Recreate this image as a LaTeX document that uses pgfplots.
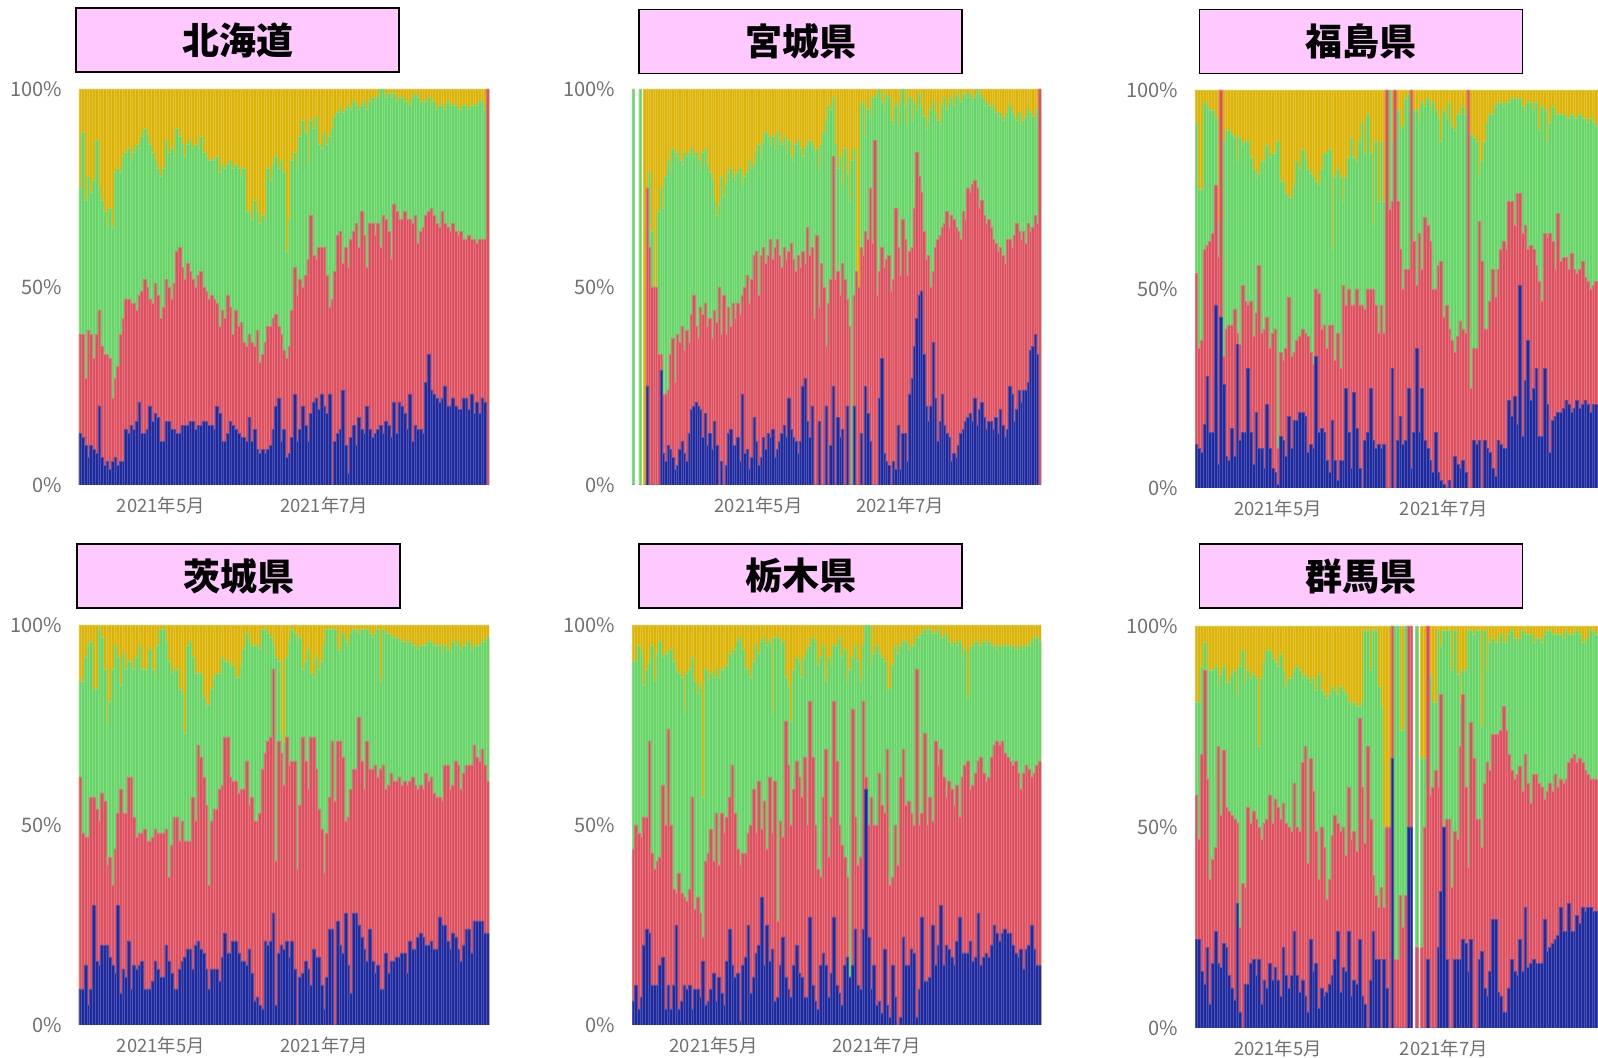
\documentclass[border=0pt]{standalone}
\usepackage{fontspec}
\setmainfont{Noto Sans CJK JP}
\usepackage{pgfplots}
\usepackage{pgfplotstable}
\pgfplotsset{compat=1.18}
\definecolor{cY}{RGB}{220,180,8}
\definecolor{cG}{RGB}{102,212,102}
\definecolor{cR}{RGB}{221,80,96}
\definecolor{cB}{RGB}{30,42,158}
\definecolor{cT}{RGB}{112,112,116}
\definecolor{cP}{RGB}{255,200,255}

% columns: b = blue top, r = red top, g = green top, t = total (yellow top), in percent
\pgfplotstableread{
b r g t
13 38 75 100
12 38 89 100
10 27 72 100
7 39 78 100
10 38 74 100
9 32 77 100
8 38 87 100
20 44 75 100
7 35 72 100
5 33 69 100
6 33 65 100
4 32 70 100
6 22 65 100
7 27 79 100
5 30 80 100
6 38 79 100
6 42 83 100
14 47 84 100
13 47 85 100
15 46 82 100
14 46 84 100
16 44 86 100
21 48 85 100
13 49 88 100
13 52 90 100
14 50 88 100
20 47 86 100
16 46 84 100
18 51 82 100
17 48 80 100
11 42 78 100
11 45 80 100
16 52 87 100
16 50 84 100
14 47 85 100
14 51 83 100
13 59 90 100
13 60 88 100
15 55 86 100
15 52 83 100
15 56 86 100
16 54 87 100
16 52 85 100
14 50 86 100
15 53 85 100
15 54 88 100
16 50 84 100
16 49 83 100
15 47 82 100
15 48 82 100
14 47 82 100
20 46 83 100
18 40 79 100
11 44 81 100
11 42 80 100
13 48 81 100
16 45 82 100
15 38 80 100
14 44 81 100
13 40 80 100
12 41 78 100
12 36 80 100
11 35 69 100
17 38 69 100
11 36 67 100
14 35 72 100
9 39 69 100
8 31 66 100
9 33 68 100
8 36 67 100
9 40 80 100
10 40 77 100
14 42 81 100
20 43 83 100
22 40 80 100
11 38 82 100
14 34 79 100
7 32 59 100
8 35 67 100
12 44 82 100
23 55 84 100
11 48 80 100
14 52 88 100
20 50 92 100
15 53 89 100
11 57 81 100
18 68 92 100
21 58 90 100
22 57 93 100
19 60 86 100
23 60 85 100
20 60 89 100
18 53 86 100
23 45 88 100
0 47 90 100
11 54 93 100
13 63 94 100
14 64 95 100
24 56 94 100
10 60 95 100
3 55 96 100
12 62 95 100
15 64 97 100
10 66 96 100
17 60 95 100
14 69 96 100
13 63 97 100
20 55 95 100
14 66 97 100
12 66 98 100
13 63 97 100
14 66 98 100
15 60 100 100
13 68 100 100
16 67 98 100
15 64 99 100
12 57 98 100
21 71 99 100
13 69 97 100
21 67 98 100
20 67 98 100
18 69 97 100
14 67 97 100
23 67 96 100
11 66 98 100
15 68 99 100
14 61 98 100
14 64 97 100
13 65 96 100
26 68 97 100
33 69 98 100
24 70 96 100
23 68 97 100
22 66 95 100
21 65 96 100
22 69 96 100
25 66 95 100
20 65 97 100
20 64 96 100
22 66 96 100
20 64 96 100
19 63 95 100
19 64 95 100
22 62 96 100
22 62 96 100
19 63 95 100
23 62 96 100
18 62 96 100
21 61 96 100
18 62 97 100
22 62 97 100
21 62 95 100
0 100 100 100
}\tA

\pgfplotstableread{
b r g t
0 0 100 100
nan nan nan nan
nan nan nan nan
0 0 100 100
nan nan nan nan
0 0 0 100
25 75 75 100
0 60 79 100
0 50 64 100
0 50 50 100
0 50 50 100
0 33 69 100
29 33 75 100
8 23 70 100
6 23 78 100
10 24 82 100
9 33 80 100
7 37 85 100
4 26 83 100
5 38 84 100
9 36 82 100
11 40 81 100
8 34 84 100
6 39 83 100
13 36 84 100
19 43 85 100
20 48 83 100
21 40 84 100
20 37 82 100
19 45 80 100
12 43 84 100
18 46 85 100
10 40 81 100
13 42 79 100
9 37 77 100
16 44 72 100
10 41 68 100
0 50 71 100
6 38 78 100
0 48 73 100
5 38 76 100
13 45 79 100
14 40 80 100
10 46 78 100
10 42 77 100
12 46 79 100
6 43 80 100
23 48 76 100
8 50 78 100
9 53 79 100
4 46 82 100
7 52 80 100
17 58 81 100
11 59 84 100
5 48 86 100
7 58 83 100
12 60 87 100
9 56 89 100
13 58 88 100
12 62 86 100
14 57 88 100
7 60 85 100
9 62 89 100
11 58 87 100
13 55 86 100
15 60 88 100
12 57 84 100
22 59 87 100
14 61 83 100
12 57 82 100
11 54 86 100
8 58 87 100
11 55 85 100
25 59 83 100
27 56 85 100
16 65 86 100
12 58 87 100
20 60 86 100
0 42 84 100
0 63 85 100
16 45 80 100
0 56 86 100
0 50 89 100
20 35 92 100
0 46 96 100
10 52 95 100
25 83 98 100
0 52 86 100
17 54 80 100
12 48 83 100
14 56 76 100
0 52 85 100
20 47 79 100
0 40 72 100
0 0 82 100
20 48 85 100
0 54 50 100
0 50 50 100
13 60 96 100
0 58 97 100
25 64 88 100
18 62 95 100
11 75 93 100
0 61 98 100
0 87 98 100
0 48 99 100
22 54 100 100
32 60 97 100
8 55 95 100
6 57 99 100
5 58 98 100
0 49 92 100
6 52 91 100
4 70 96 100
15 60 91 100
4 53 97 100
13 67 100 100
13 62 96 100
6 53 91 100
23 59 98 100
27 60 92 100
35 70 97 100
42 84 95 100
48 78 99 100
49 74 96 100
33 64 93 100
20 57 90 100
16 58 92 100
20 50 95 100
36 54 97 100
22 60 94 100
11 62 92 100
16 63 91 100
23 65 96 100
15 66 98 100
13 69 95 100
12 65 97 100
6 68 98 100
8 67 96 100
7 65 99 100
10 64 98 100
13 62 97 100
14 69 99 100
16 67 99 100
17 75 98 100
18 74 99 100
16 76 97 100
22 77 98 100
15 75 100 100
19 70 99 100
21 72 98 100
17 68 96 100
14 66 97 100
16 67 96 100
16 65 95 100
14 62 96 100
17 61 94 100
13 59 93 100
19 60 94 100
15 58 92 100
12 56 93 100
14 62 94 100
25 62 96 100
23 60 94 100
16 63 93 100
19 66 92 100
24 64 94 100
21 62 91 100
24 64 92 100
24 61 93 100
26 66 95 100
34 64 94 100
35 65 93 100
38 68 92 100
33 66 95 100
0 100 100 100
}\tB

\pgfplotstableread{
b r g t
11 54 92 100
10 35 75 100
9 37 75 100
16 60 97 100
28 61 96 100
14 62 95 100
14 64 95 100
46 76 93 100
6 58 67 100
43 100 100 100
26 33 87 100
8 40 90 100
7 41 90 100
15 41 89 100
8 45 88 100
36 39 82 100
12 36 88 100
14 51 86 100
14 47 87 100
30 46 87 100
14 47 83 100
6 38 80 100
19 44 78 100
10 56 79 100
10 39 82 100
5 40 82 100
21 43 86 100
10 35 83 100
5 39 84 100
4 40 84 100
1 10 87 100
13 34 77 100
12 32 77 100
8 35 74 100
18 48 73 100
10 33 73 100
17 34 76 100
17 37 82 100
19 38 80 100
19 40 85 100
18 39 83 100
9 38 80 100
11 34 79 100
10 31 78 100
33 50 77 100
14 49 76 100
15 40 80 100
14 41 84 100
7 35 84 100
4 41 85 100
17 41 60 100
7 32 78 100
2 39 80 100
7 30 78 100
7 51 72 100
25 46 78 100
14 50 83 100
5 46 88 100
24 46 83 100
15 50 82 100
5 46 87 100
0 46 92 100
12 45 84 100
14 50 94 100
25 50 84 100
12 50 66 100
10 46 87 100
11 39 72 100
10 46 87 100
11 39 72 100
0 100 100 100
0 70 100 100
30 72 87 100
0 100 100 100
12 72 95 100
18 60 90 100
11 50 91 100
12 55 98 100
25 55 99 100
5 100 100 100
14 62 95 100
35 51 95 100
14 64 92 100
25 55 97 100
12 68 96 100
10 66 98 100
7 62 95 100
4 50 97 100
14 50 95 100
4 56 93 100
2 57 87 100
1 43 95 100
0 46 93 100
2 40 97 100
0 37 91 100
8 34 90 100
6 38 94 100
5 42 94 100
7 40 96 100
4 39 94 100
0 100 100 100
0 25 89 100
12 35 88 100
11 35 87 100
12 67 78 100
0 57 82 100
12 40 87 100
10 40 92 100
9 47 94 100
5 55 94 100
3 48 96 100
12 55 97 100
11 60 97 100
10 62 96 100
10 60 97 100
22 72 97 100
18 72 98 100
23 66 98 100
16 74 97 100
51 74 98 100
13 64 96 100
27 66 95 100
37 60 97 100
22 61 97 100
25 60 95 100
30 56 97 100
13 52 90 100
13 47 96 100
30 64 95 100
21 63 87 100
9 64 92 100
17 62 96 100
18 55 94 100
19 69 94 100
19 57 94 100
20 58 94 100
22 58 93 100
21 55 93 100
19 59 94 100
20 55 93 100
22 54 93 100
20 55 94 100
21 57 93 100
22 53 93 100
21 52 92 100
19 50 93 100
21 51 92 100
21 52 91 100
20 52 92 100
20 53 92 100
21 52 91 100
20 51 92 100
21 52 92 100
}\tC

\pgfplotstableread{
b r g t
9 62 86 100
9 48 86 100
15 47 92 100
5 47 95 100
9 57 96 100
30 57 84 100
16 54 84 100
15 51 99 100
20 58 97 100
20 56 89 100
20 40 75 100
17 42 81 100
15 35 89 100
13 44 95 100
30 53 92 100
8 59 85 100
14 53 93 100
12 53 89 100
21 62 91 100
9 62 91 100
15 52 89 100
14 47 92 100
15 48 95 100
16 48 89 100
9 49 89 100
9 46 89 100
9 46 94 100
11 47 89 100
16 49 87 100
14 48 95 100
12 48 99 100
12 48 99 100
20 49 96 100
16 37 91 100
13 45 88 100
9 52 89 100
9 52 89 100
14 46 84 100
16 51 83 100
17 46 73 100
19 46 95 100
19 46 96 100
14 57 92 100
20 51 88 100
21 70 88 100
19 67 88 100
18 62 82 100
14 55 80 100
9 35 80 100
14 51 84 100
14 54 87 100
14 54 88 100
11 59 88 100
17 60 92 100
23 72 91 100
18 72 91 100
18 62 90 100
21 61 90 100
21 61 87 100
18 58 87 100
16 59 90 100
16 59 94 100
15 66 98 100
19 55 96 100
13 57 95 100
6 51 95 100
7 51 95 100
5 53 94 100
4 64 99 100
21 68 99 100
20 71 98 100
21 72 97 100
28 89 95 100
5 41 92 100
18 71 91 100
20 68 73 100
19 60 71 100
21 72 92 100
17 65 96 100
21 66 99 100
14 66 98 100
0 39 96 100
12 55 97 100
13 72 89 100
16 66 91 100
14 59 94 100
10 72 88 100
19 72 87 100
17 64 92 100
17 54 89 100
10 49 91 100
4 38 95 100
12 48 99 100
24 57 99 100
24 71 99 100
0 56 99 100
26 71 94 100
20 71 93 100
18 67 98 100
28 51 96 100
15 52 95 100
8 59 98 100
28 64 99 100
28 64 99 100
25 77 98 100
22 66 99 100
19 59 99 100
16 71 99 100
24 64 98 100
16 64 97 100
13 65 98 100
15 62 99 100
9 64 86 100
9 65 99 100
18 59 98 100
13 60 98 100
16 63 97 100
16 61 97 100
17 61 97 100
17 62 96 100
18 60 96 100
18 61 96 100
13 60 95 100
21 61 96 100
19 62 95 100
19 60 95 100
22 59 94 100
23 60 95 100
22 59 95 100
20 63 95 100
20 61 96 100
21 62 96 100
19 58 95 100
19 57 95 100
27 57 95 100
25 56 93 100
25 65 95 100
21 65 94 100
19 59 93 100
23 60 96 100
22 66 95 100
19 65 96 100
16 59 94 100
20 63 95 100
24 65 95 100
24 65 96 100
18 65 94 100
26 70 95 100
26 67 95 100
26 66 95 100
26 69 96 100
23 65 96 100
23 61 97 100
}\tD

\pgfplotstableread{
b r g t
6 44 91 100
10 50 91 100
4 48 95 100
7 47 93 100
20 52 85 100
24 52 89 100
23 71 91 100
10 43 95 100
10 39 86 100
10 41 93 100
15 42 96 100
17 60 92 100
4 50 93 100
10 74 93 100
4 50 94 100
10 34 91 100
25 33 89 100
4 38 88 100
6 33 87 100
10 32 78 100
9 31 88 100
10 34 89 100
4 57 92 100
9 29 86 100
9 32 83 100
7 28 85 100
16 22 57 100
5 41 89 100
6 43 86 100
9 49 88 100
13 41 87 100
6 53 89 100
12 40 87 100
8 53 89 100
5 48 89 100
16 52 90 100
24 57 93 100
15 65 92 100
12 53 94 100
13 44 96 100
1 40 97 100
15 43 94 100
17 43 89 100
25 48 89 100
8 50 87 100
12 59 91 100
18 48 95 100
20 61 93 100
32 49 96 100
15 56 97 100
25 44 95 100
16 62 96 100
19 48 78 100
6 61 97 100
7 26 97 100
15 51 95 100
22 47 96 100
12 76 87 100
9 65 85 100
7 50 76 100
15 59 89 100
20 66 92 100
13 62 91 100
12 57 87 100
7 67 92 100
7 50 94 100
27 81 95 100
10 67 97 100
6 50 96 100
4 39 90 100
15 37 92 100
18 57 95 100
15 69 86 100
7 42 92 100
13 52 90 100
27 81 95 100
10 66 95 100
8 50 97 100
5 45 92 100
15 42 94 100
17 37 86 100
12 12 89 100
15 79 92 100
24 52 95 100
10 40 91 100
9 42 86 100
24 81 95 100
59 62 100 100
22 50 100 100
9 57 90 100
15 50 93 100
5 50 95 100
6 63 93 100
3 55 92 100
19 53 91 100
5 69 84 100
2 35 84 100
15 37 90 100
7 50 95 100
0 40 93 100
2 62 95 100
22 69 96 100
15 55 96 100
15 56 94 100
19 53 95 100
18 50 95 100
2 89 97 100
9 50 97 100
27 53 98 100
11 73 99 100
11 50 98 100
12 57 99 100
25 51 98 100
15 71 98 100
20 65 99 100
30 69 97 100
15 62 97 100
20 57 98 100
19 61 96 100
17 59 95 100
15 55 96 100
21 60 95 100
27 52 96 100
18 62 92 100
18 65 94 100
18 66 82 100
21 59 94 100
16 60 95 100
17 63 96 100
28 66 95 100
15 67 95 100
17 63 96 100
18 61 95 100
17 62 96 100
20 67 95 100
25 70 95 100
23 71 94 100
21 70 95 100
23 71 94 100
24 68 95 100
23 67 95 100
23 66 94 100
20 65 95 100
18 66 94 100
17 63 94 100
19 59 95 100
14 63 94 100
19 65 95 100
20 64 95 100
25 62 96 100
19 63 97 100
15 65 97 100
15 66 96 100
}\tE

\pgfplotstableread{
b r g t
22 58 81 100
22 47 81 100
14 68 90 100
11 89 96 100
20 62 89 100
6 37 89 100
16 42 89 100
24 45 90 100
16 70 85 100
15 53 88 100
21 69 90 100
20 55 86 100
13 54 86 100
10 53 88 100
7 52 89 100
31 51 83 100
4 25 90 100
0 36 94 100
11 35 86 100
11 55 89 100
16 51 87 100
17 54 88 100
13 52 87 100
17 50 70 100
6 47 87 100
12 51 91 100
10 52 94 100
16 58 94 100
12 51 92 100
15 57 91 100
12 55 90 100
8 52 93 100
20 56 89 100
13 51 85 100
10 50 87 100
13 49 87 100
24 61 89 100
13 50 90 100
9 49 89 100
12 66 87 100
8 70 88 100
4 41 87 100
22 67 86 100
14 59 87 100
16 49 84 100
5 37 88 100
10 50 84 100
8 45 83 100
9 32 82 100
11 37 83 100
13 48 85 100
17 53 84 100
24 51 83 100
9 49 85 100
15 50 84 100
14 43 83 100
24 60 81 100
8 47 80 100
12 49 81 100
11 44 80 100
22 77 80 100
8 60 81 100
6 46 99 100
0 70 99 100
12 52 89 100
24 38 99 100
17 33 99 100
17 30 85 100
0 35 80 100
17 30 50 100
10 50 50 100
0 50 50 100
67 100 100 100
0 17 100 100
0 17 100 100
0 33 74 100
0 25 74 100
0 33 100 100
50 100 100 100
50 100 100 100
nan nan nan nan
0 20 100 100
nan nan nan nan
0 20 67 100
0 50 67 100
17 100 100 100
0 58 88 100
0 60 81 100
0 64 81 100
20 60 99 100
34 83 95 100
50 50 99 100
17 52 99 100
0 52 99 100
0 35 89 100
17 49 99 100
17 47 88 100
17 70 81 100
22 83 89 100
21 60 89 100
14 40 99 100
22 76 99 100
0 67 98 100
0 52 99 100
17 52 99 100
19 45 75 100
10 61 99 100
8 66 89 100
14 64 96 100
27 73 97 100
27 73 96 100
9 73 96 100
8 74 98 100
4 80 96 100
4 74 96 100
10 68 98 100
17 64 99 100
14 62 97 100
13 63 96 100
22 65 97 100
14 59 99 100
30 68 98 100
15 61 98 100
16 56 98 100
17 63 96 100
16 63 97 100
16 61 97 100
16 60 96 100
27 57 98 100
19 59 99 100
20 61 99 100
21 59 98 100
22 63 98 100
23 60 98 100
30 62 98 100
24 61 97 100
24 62 99 100
31 66 98 100
24 67 98 100
24 68 98 100
28 66 99 100
26 67 98 100
30 66 96 100
29 64 96 100
30 63 97 100
30 62 99 100
29 62 99 100
29 62 98 100
28 62 98 100
28 62 98 100
28 62 98 100
28 62 98 100
28 62 98 100
}\tF

\pgfplotsset{
  panel/.style={
    scale only axis, anchor=south west,
    ymin=0, ymax=100, xmin=-0.5,
    ytick={0,50,100}, yticklabels={0\%,50\%,100\%},
    axis line style={draw=none}, major tick length=0pt,
    yticklabel style={font=\fontsize{10}{12}\selectfont, text=cT, xshift=-5pt},
    xticklabel style={font=\fontsize{9.2}{11}\selectfont, text=cT, yshift=-2.5pt},
    xticklabels={2021年5月,2021年7月},
  },
  sb/.style={ybar, bar width=1, bar shift=0pt, line width=0.25pt},
}
\tikzset{
  ttl/.style={draw=black, line width=0.8pt, fill=cP, minimum width=161.5pt, minimum height=32pt, inner sep=0pt, font=\fontsize{18.5}{21}\selectfont\bfseries},
}
\newcommand{\stackbars}[1]{%
  \addplot[sb, fill=cY, draw=cY!80!white] table[x expr=\coordindex, y=t]{#1};
  \addplot[sb, fill=cG, draw=cG!80!white] table[x expr=\coordindex, y=g]{#1};
  \addplot[sb, fill=cR, draw=cR!80!white] table[x expr=\coordindex, y=r]{#1};
  \addplot[sb, fill=cB, draw=cB!80!white] table[x expr=\coordindex, y=b]{#1};
}

\begin{document}
\begin{tikzpicture}
\path[use as bounding box] (0,0) rectangle (799pt,529pt);

\begin{axis}[panel, at={(39.5pt,286.5pt)}, width=205pt, height=198pt, xmax=152.5, xtick={30,91}]
\stackbars{\tA}
\end{axis}
\begin{axis}[panel, at={(316pt,286.5pt)}, width=204.5pt, height=198pt, xmax=175.5, xtick={54,115}]
\stackbars{\tB}
\end{axis}
\begin{axis}[panel, at={(597.5pt,285pt)}, width=208pt, height=199pt, xmax=152.5, xtick={30,91}]
\stackbars{\tC}
\end{axis}
\begin{axis}[panel, at={(39.5pt,16.5pt)}, width=205pt, height=200pt, xmax=152.5, xtick={30,91}]
\stackbars{\tD}
\end{axis}
\begin{axis}[panel, at={(316pt,16.5pt)}, width=204.5pt, height=200pt, xmax=152.5, xtick={30,91}]
\stackbars{\tE}
\end{axis}
\begin{axis}[panel, at={(597.5pt,15pt)}, width=208pt, height=201pt, xmax=152.5, xtick={30,91}]
\stackbars{\tF}
\end{axis}

\node[ttl] at (118.75pt,509pt) {北海道};
\node[ttl] at (400.25pt,508.25pt) {宮城県};
\node[ttl] at (680.5pt,508.25pt) {福島県};
\node[ttl] at (119.25pt,241pt) {茨城県};
\node[ttl] at (400.25pt,241pt) {栃木県};
\node[ttl] at (680.5pt,241pt) {群馬県};
\end{tikzpicture}
\end{document}
